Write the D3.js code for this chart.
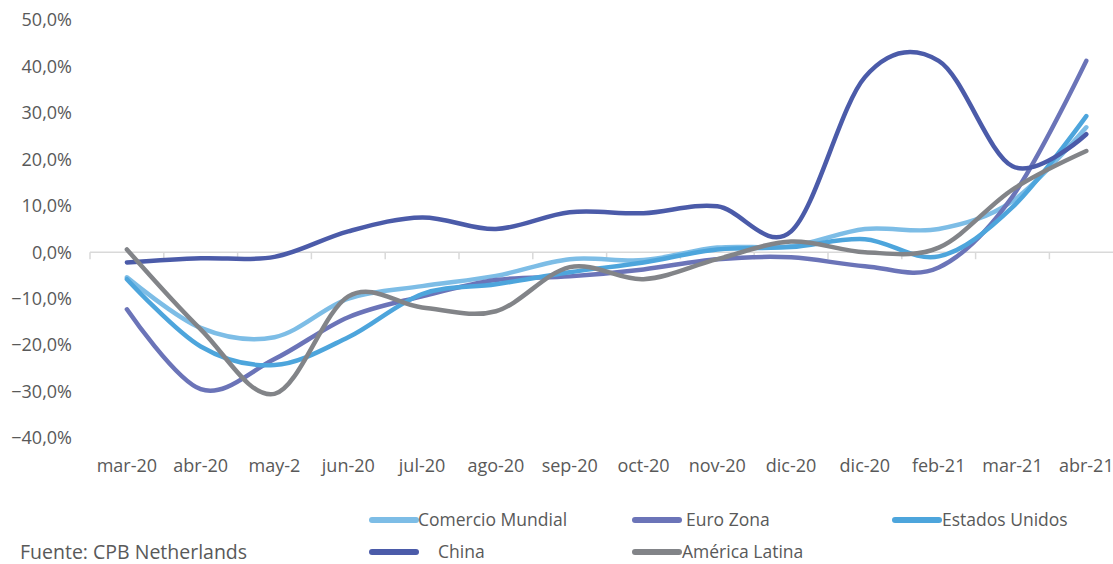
<!DOCTYPE html>
<html>
<head>
<meta charset="utf-8">
<script src="https://cdn.jsdelivr.net/npm/d3@7"></script>
<style>
  body { margin: 0; background: #fff; }
  text { font-family: "Open Sans", "Noto Sans", sans-serif; fill: #595959; }
</style>
</head>
<body>
<svg id="chart" width="1113" height="564"></svg>
<script>
// Month labels as printed in the source (dic-20 appears twice)
const months = ["mar-20", "abr-20", "may-2", "jun-20", "jul-20", "ago-20", "sep-20",
  "oct-20", "nov-20", "dic-20", "dic-20", "feb-21", "mar-21", "abr-21"]

const comercioMundial = [-5.4, -16.3, -18.3, -10, -7.3, -5.1, -1.5, -1.7, 1, 1.3, 5, 5, 11, 26.9]
const euroZona = [-12.3, -29.5, -23, -14, -9.5, -6, -5.2, -3.7, -1.5, -1.1, -3, -3.3, 12, 41.2]
const estadosUnidos = [-5.8, -20.3, -24.3, -18.3, -9, -6.9, -4.3, -2.2, 0.6, 1.1, 2.8, -0.9, 9.7, 29.3]
const china = [-2.2, -1.3, -1, 4.5, 7.5, 5, 8.6, 8.4, 9.9, 4.5, 37.7, 41.2, 18.5, 25.4]
const americaLatina = [0.6, -16.6, -30.5, -9.5, -11.9, -12.7, -3.2, -5.8, -1.5, 2.3, 0, 1, 13.5, 21.8]

const yTicks = [-40, -30, -20, -10, 0, 10, 20, 30, 40, 50]

const series = [
  { name: "Comercio Mundial", values: comercioMundial, colour: "#7dbde6" },
  { name: "Euro Zona", values: euroZona, colour: "#6b74b8" },
  { name: "Estados Unidos", values: estadosUnidos, colour: "#4da5dc" },
  { name: "China", values: china, colour: "#4b5ba9" },
  { name: "América Latina", values: americaLatina, colour: "#828488" }
]

const svg = d3.select("#chart")

let x = d3.scaleBand()
  .domain(d3.range(months.length))
  .range([90, 90 + 14 * 73.8])
let y = d3.scaleLinear()
  .domain([-40, 50])
  .range([438, 20])

// y labels (no axis line, no gridlines)
svg.append("g")
  .selectAll("text")
  .data(yTicks)
  .join("text")
    .attr("x", 72)
    .attr("y", d => y(d))
    .attr("dy", "0.35em")
    .attr("text-anchor", "end")
    .style("font-size", "18px")
    .text(d => d3.format(".1f")(d).replace(".", ",") + "%")

// zero line with category tick marks
let zero = svg.append("g").attr("transform", `translate(0,${y(0)})`)
zero.append("line")
  .attr("x1", 90).attr("x2", 1113)
  .attr("stroke", "#d9d9d9").attr("stroke-width", 1.5)
zero.selectAll("line.tick")
  .data(d3.range(months.length))
  .join("line")
    .attr("class", "tick")
    .attr("x1", i => x(i)).attr("x2", i => x(i))
    .attr("y1", 0).attr("y2", 7)
    .attr("stroke", "#d9d9d9").attr("stroke-width", 1.5)

// month labels along the bottom
svg.append("g")
  .selectAll("text")
  .data(months)
  .join("text")
    .attr("x", (d, i) => x(i) + x.bandwidth() / 2)
    .attr("y", 466)
    .attr("dy", "0.35em")
    .attr("text-anchor", "middle")
    .style("font-size", "18px")
    .text(d => d)

let line = d3.line()
  .x((d, i) => x(i) + x.bandwidth() / 2)
  .y(d => y(d))
  .curve(d3.curveCardinal.tension(0))

svg.append("g")
  .selectAll("path")
  .data(series)
  .join("path")
    .attr("d", d => line(d.values))
    .attr("fill", "none")
    .attr("stroke", d => d.colour)
    .attr("stroke-width", 4.5)
    .attr("stroke-linecap", "round")

// legend
const legendPos = [[370, 520], [633, 520], [893, 520], [370, 552], [633, 552]]
const legendTextX = [418, 686, 942, 438, 682]
let legend = svg.append("g")
  .selectAll("g")
  .data(series)
  .join("g")
legend.append("line")
  .attr("x1", (d, i) => legendPos[i][0] + 2)
  .attr("x2", (d, i) => legendPos[i][0] + 46)
  .attr("y1", (d, i) => legendPos[i][1])
  .attr("y2", (d, i) => legendPos[i][1])
  .attr("stroke", d => d.colour)
  .attr("stroke-width", 6)
  .attr("stroke-linecap", "round")
legend.append("text")
  .attr("x", (d, i) => legendTextX[i])
  .attr("y", (d, i) => legendPos[i][1])
  .attr("dy", "0.35em")
  .style("font-size", "17.5px")
  .text(d => d.name)

svg.append("text")
  .attr("x", 20)
  .attr("y", 552)
  .attr("dy", "0.35em")
  .style("font-size", "19.5px")
  .text("Fuente: CPB Netherlands")
</script>
</body>
</html>
